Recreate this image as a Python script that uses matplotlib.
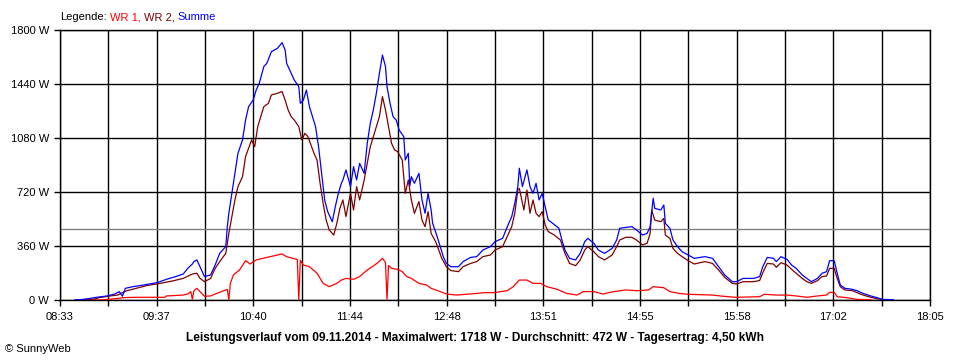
import numpy as np
import matplotlib.pyplot as plt

# Leistungsverlauf vom 09.11.2014 - Zeit (hh:mm) und Leistung (W)
summe_t = ["08:43", "08:48", "08:53", "08:57", "09:04", "09:09", "09:12", "09:14", "09:16", "09:21",
           "09:28", "09:37", "09:43", "09:49", "09:54", "09:57", "10:00", "10:01", "10:03", "10:05",
           "10:08", "10:12", "10:15", "10:18", "10:22", "10:23", "10:24", "10:26", "10:28", "10:30",
           "10:33", "10:35", "10:37", "10:40", "10:42", "10:44", "10:47", "10:49", "10:52", "10:56",
           "10:59", "11:01", "11:02", "11:04", "11:07", "11:10", "11:11", "11:13", "11:15", "11:17",
           "11:21", "11:23", "11:25", "11:27", "11:29", "11:32", "11:34", "11:36", "11:38", "11:39",
           "11:41", "11:44", "11:46", "11:48", "11:50", "11:53", "11:55", "11:57", "11:59", "12:01",
           "12:03", "12:05", "12:07", "12:08", "12:10", "12:12", "12:14", "12:16", "12:19", "12:20",
           "12:22", "12:23", "12:24", "12:26", "12:29", "12:31", "12:33", "12:35", "12:37", "12:38",
           "12:41", "12:43", "12:45", "12:47", "12:50", "12:55", "12:58", "13:03", "13:07", "13:11",
           "13:16", "13:19", "13:24", "13:28", "13:30", "13:32", "13:34", "13:35", "13:37", "13:40",
           "13:42", "13:44", "13:46", "13:48", "13:50", "13:52", "13:54", "13:57", "14:01", "14:03",
           "14:05", "14:08", "14:12", "14:15", "14:18", "14:20", "14:24", "14:27", "14:31", "14:36",
           "14:39", "14:41", "14:45", "14:49", "14:52", "14:56", "14:59", "15:01", "15:03", "15:04",
           "15:08", "15:10", "15:11", "15:14", "15:16", "15:19", "15:22", "15:26", "15:30", "15:37",
           "15:42", "15:46", "15:50", "15:55", "15:58", "16:02", "16:09", "16:13", "16:15", "16:18",
           "16:22", "16:24", "16:27", "16:31", "16:34", "16:37", "16:41", "16:44", "16:47", "16:51",
           "16:54", "16:57", "16:59", "17:02", "17:04", "17:06", "17:09", "17:14", "17:17", "17:21",
           "17:26", "17:30", "17:34", "17:41"]
summe_w = [0, 4, 11, 18, 27, 40, 56, 25, 78, 89,
           100, 116, 138, 156, 173, 211, 240, 256, 267, 222,
           156, 167, 233, 311, 356, 489, 578, 711, 844, 978,
           1067, 1200, 1289, 1333, 1400, 1444, 1556, 1578, 1656, 1678,
           1716, 1667, 1578, 1533, 1467, 1422, 1311, 1333, 1400, 1289,
           1156, 1022, 844, 667, 589, 522, 622, 711, 778, 800,
           867, 756, 889, 800, 911, 844, 1044, 1178, 1267, 1378,
           1511, 1633, 1556, 1422, 1311, 1222, 1200, 1133, 1089, 933,
           978, 760, 822, 778, 844, 667, 578, 711, 600, 511,
           422, 356, 289, 244, 222, 222, 256, 284, 289, 333,
           356, 389, 411, 511, 556, 644, 756, 878, 756, 867,
           756, 711, 778, 667, 711, 622, 533, 511, 478, 400,
           333, 278, 267, 311, 389, 411, 378, 333, 311, 344,
           400, 478, 484, 489, 467, 433, 444, 489, 678, 611,
           600, 633, 511, 478, 400, 356, 322, 300, 278, 289,
           278, 222, 167, 122, 122, 144, 144, 156, 220, 284,
           278, 256, 289, 271, 233, 211, 167, 144, 122, 144,
           178, 189, 262, 262, 178, 100, 78, 71, 62, 44,
           27, 16, 4, 2]

wr2_t = ["08:43", "08:55", "08:59", "09:06", "09:11", "09:14", "09:17", "09:23", "09:30", "09:39",
         "09:47", "09:54", "10:00", "10:03", "10:05", "10:08", "10:12", "10:15", "10:18", "10:22",
         "10:24", "10:26", "10:28", "10:30", "10:33", "10:35", "10:37", "10:39", "10:41", "10:43",
         "10:47", "10:50", "10:52", "10:56", "10:59", "11:01", "11:03", "11:05", "11:07", "11:10",
         "11:12", "11:14", "11:16", "11:20", "11:22", "11:24", "11:26", "11:28", "11:30", "11:33",
         "11:35", "11:37", "11:39", "11:41", "11:44", "11:46", "11:48", "11:50", "11:53", "11:55",
         "11:57", "11:59", "12:01", "12:03", "12:05", "12:07", "12:09", "12:11", "12:13", "12:15",
         "12:18", "12:20", "12:22", "12:24", "12:26", "12:29", "12:31", "12:33", "12:35", "12:37",
         "12:40", "12:42", "12:44", "12:47", "12:50", "12:55", "12:58", "13:03", "13:07", "13:11",
         "13:16", "13:19", "13:24", "13:28", "13:30", "13:32", "13:34", "13:35", "13:38", "13:40",
         "13:42", "13:44", "13:46", "13:48", "13:50", "13:52", "13:54", "13:58", "14:02", "14:05",
         "14:08", "14:12", "14:15", "14:18", "14:20", "14:24", "14:27", "14:31", "14:36", "14:39",
         "14:41", "14:45", "14:49", "14:52", "14:56", "14:59", "15:01", "15:02", "15:04", "15:08",
         "15:10", "15:11", "15:14", "15:16", "15:19", "15:22", "15:26", "15:30", "15:37", "15:42",
         "15:46", "15:50", "15:55", "15:58", "16:02", "16:09", "16:13", "16:15", "16:18", "16:22",
         "16:24", "16:27", "16:31", "16:34", "16:37", "16:41", "16:44", "16:47", "16:51", "16:54",
         "16:57", "16:59", "17:02", "17:04", "17:06", "17:09", "17:14", "17:17", "17:21", "17:26",
         "17:30", "17:34"]
wr2_w = [0, 5, 16, 27, 33, 49, 62, 78, 96, 111,
         127, 144, 173, 178, 145, 122, 144, 211, 256, 311,
         444, 556, 667, 756, 822, 956, 1011, 1067, 1022, 1156,
         1289, 1311, 1367, 1378, 1390, 1333, 1267, 1222, 1200, 1156,
         1067, 1111, 1089, 978, 933, 778, 644, 533, 467, 433,
         511, 610, 667, 556, 711, 600, 756, 667, 800, 911,
         1022, 1089, 1156, 1222, 1356, 1267, 1156, 1044, 1000, 989,
         933, 711, 800, 667, 578, 656, 533, 489, 589, 444,
         389, 333, 278, 222, 196, 189, 222, 244, 256, 289,
         300, 333, 356, 444, 489, 578, 733, 744, 600, 733,
         578, 667, 578, 556, 589, 500, 456, 433, 400, 311,
         244, 229, 267, 333, 356, 322, 289, 267, 300, 356,
         400, 418, 418, 400, 367, 378, 444, 600, 533, 522,
         544, 433, 411, 344, 311, 289, 262, 240, 256, 244,
         200, 151, 111, 107, 122, 122, 130, 180, 244, 240,
         218, 249, 233, 204, 178, 144, 122, 111, 129, 156,
         160, 211, 211, 144, 89, 67, 62, 49, 33, 18,
         9, 2]

wr1_t = ["08:43", "08:59", "09:10", "09:15", "09:23", "09:42", "09:43", "09:54", "09:57", "09:59",
         "10:00", "10:01", "10:03", "10:05", "10:08", "10:12", "10:16", "10:22", "10:23", "10:24",
         "10:25", "10:27", "10:31", "10:35", "10:38", "10:42", "10:49", "10:56", "10:59", "11:02",
         "11:06", "11:09", "11:10", "11:11", "11:13", "11:17", "11:22", "11:26", "11:30", "11:35",
         "11:38", "11:41", "11:46", "11:50", "11:55", "11:59", "12:02", "12:05", "12:07", "12:08",
         "12:09", "12:11", "12:15", "12:18", "12:21", "12:24", "12:29", "12:34", "12:37", "12:43",
         "12:47", "12:54", "13:00", "13:07", "13:12", "13:18", "13:27", "13:31", "13:35", "13:40",
         "13:44", "13:49", "13:53", "14:00", "14:06", "14:13", "14:17", "14:24", "14:30", "14:37",
         "14:45", "14:52", "15:00", "15:03", "15:10", "15:14", "15:20", "15:26", "15:42", "15:47",
         "15:57", "16:13", "16:16", "16:24", "16:31", "16:37", "16:44", "16:51", "16:57", "16:59",
         "17:02", "17:04", "17:10", "17:17", "17:26"]
wr1_w = [0, 0, 9, 16, 18, 18, 27, 33, 40, 56,
         5, 60, 78, 56, 25, 27, 44, 67, 70, 0,
         111, 167, 200, 262, 240, 267, 284, 300, 307, 289,
         278, 270, 0, 265, 233, 222, 178, 111, 89, 111,
         133, 144, 138, 156, 200, 227, 249, 278, 250, 0,
         230, 211, 204, 189, 156, 144, 111, 100, 78, 56,
         40, 33, 38, 44, 49, 49, 62, 89, 133, 133,
         111, 111, 89, 71, 44, 33, 56, 56, 40, 56,
         67, 62, 67, 89, 82, 56, 44, 38, 33, 27,
         18, 22, 38, 33, 33, 27, 18, 27, 33, 51,
         51, 22, 16, 4, 2]

durchschnitt = 472
y_ticks = [0, 360, 720, 1080, 1440, 1800]
x_labels = ["08:33", "09:37", "10:40", "11:44", "12:48", "13:51", "14:55", "15:58", "17:02", "18:05"]
legend_parts = [("Legende:", "black"), ("WR 1,", "#ff0000"), ("WR 2,", "#800000"), ("Summe", "#0000ff")]
title = "Leistungsverlauf vom 09.11.2014 - Maximalwert: 1718 W - Durchschnitt: 472 W - Tagesertrag: 4,50 kWh"


def to_min(times):
    return np.array([int(t[:2]) * 60 + int(t[3:]) for t in times])


plt.rcParams['font.family'] = ['Liberation Sans', 'DejaVu Sans']
plt.rcParams['font.size'] = 8

W, H = 960, 360
fig = plt.figure(figsize=(W / 100, H / 100), dpi=100)
ax = fig.add_axes([60 / W, 60 / H, 870 / W, 270 / H])

t0, t1 = to_min([x_labels[0]])[0], to_min([x_labels[-1]])[0]
ax.set_xlim(t0, t1)
ax.set_ylim(y_ticks[0], y_ticks[-1])

# Raster: alle halben Intervalle eine Linie, beschriftet nur jede zweite
minor = np.linspace(t0, t1, 2 * len(x_labels) - 1)
ax.set_xticks(np.linspace(t0, t1, len(x_labels)))
ax.set_xticklabels(x_labels)
ax.set_xticks(minor, minor=True)
ax.set_yticks(y_ticks)
ax.set_yticklabels([f"{v} W" for v in y_ticks])

for x in minor:
    ax.axvline(x, color='black', lw=1.0, zorder=1)
for y in y_ticks:
    ax.axhline(y, color='black', lw=1.0, zorder=1)
ax.axhline(durchschnitt, color='#808080', lw=1.0, zorder=2)

ax.plot(to_min(wr1_t), wr1_w, color='#ff0000', lw=0.9, zorder=3)
ax.plot(to_min(wr2_t), wr2_w, color='#800000', lw=0.9, zorder=4)
ax.plot(to_min(summe_t), summe_w, color='#0000ff', lw=0.9, zorder=5)

for s in ax.spines.values():
    s.set_linewidth(1.0)
ax.tick_params(which='both', direction='out', length=4, width=1.0, colors='black')
ax.tick_params(axis='x', pad=5)
ax.tick_params(axis='y', pad=4)

# Legende oben links, mehrfarbig
renderer = fig.canvas.get_renderer()
px = 60
for txt, col in legend_parts:
    t = fig.text(px / W, 1 - 17 / H, txt, color=col, ha='left', va='center')
    px += t.get_window_extent(renderer).width + 3

fig.text(475 / W, 1 - 338 / H, title, ha='center', va='center', fontweight='bold', fontsize=8.6)
fig.text(5 / W, 1 - 349 / H, "\u00a9 SunnyWeb", ha='left', va='center', fontsize=8)

fig.savefig("out.png", dpi=100)
